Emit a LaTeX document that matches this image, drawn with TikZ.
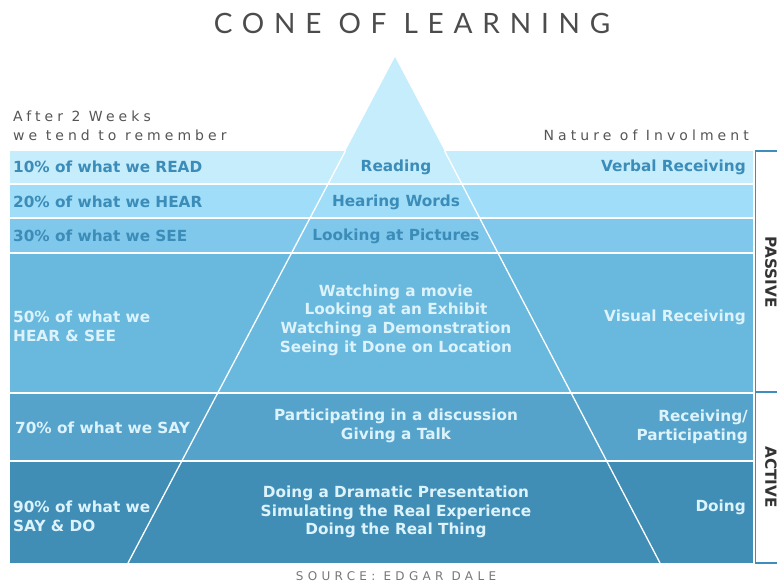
\documentclass[tikz,border=0pt]{standalone}
\usepackage{fontspec}
\setmainfont{DejaVu Sans}
\newfontfamily\headfont[LetterSpace=29]{DejaVu Sans}
\newfontfamily\srcfont[LetterSpace=36]{DejaVu Sans}
\newfontfamily\titlefont[LetterSpace=35]{Lato}
\definecolor{bandA}{HTML}{C6EDFC}
\definecolor{bandB}{HTML}{A0DDF8}
\definecolor{bandC}{HTML}{7FC8EB}
\definecolor{bandD}{HTML}{69B8DE}
\definecolor{bandE}{HTML}{55A3CB}
\definecolor{bandF}{HTML}{408DB6}
\definecolor{txtblue}{HTML}{3B8CB8}
\definecolor{txtlight}{HTML}{DDF3FC}
\definecolor{headgray}{HTML}{555555}
\definecolor{bracketblue}{HTML}{3F8DBC}

\begin{document}
\begin{tikzpicture}[x=1pt,y=-1pt]
\tikzstyle{every node}+=[inner sep=0pt]
\tikzstyle{bandtxt}=[font=\bfseries\fontsize{15.3}{18.7}\selectfont]
\tikzstyle{lighttxt}=[bandtxt, text=txtblue]
\tikzstyle{darktxt}=[bandtxt, text=txtlight]
\tikzstyle{headtxt}=[font=\headfont\fontsize{14}{19}\selectfont, text=headgray]
\useasboundingbox (0,0) rectangle (777,586);
\fill [bandA] (395,57) -- (345.4,151) -- (444.6,151) -- cycle;
\fill [bandA] (10,151) rectangle (753,183);
\fill [bandB] (10,185) rectangle (753,217);
\fill [bandC] (10,219) rectangle (753,252);
\fill [bandD] (10,254) rectangle (753,392);
\fill [bandE] (10,394) rectangle (753,460);
\fill [bandF] (10,462) rectangle (753,563);
\draw [white, line width=1.3pt] (345.4,151) -- (128,563);
\draw [white, line width=1.3pt] (444.6,151) -- (660,563);
\draw [bracketblue, line width=1.5pt] (777,151) -- (755.5,151) -- (755.5,563) -- (777,563);
\draw [bracketblue, line width=1.5pt] (755.5,392) -- (777,392);
\node (title) [font=\titlefont\fontsize{28}{30}\selectfont, text=headgray!90!black] at (412,23) {CONE OF LEARNING};
\node (after) [headtxt, anchor=base west, align=left] at (13,140) {After 2 Weeks\\we tend to remember};
\node (nature) [headtxt, anchor=base east] at (749,140) {Nature of Involment};
\node (read) [lighttxt, anchor=west] at (13,167) {10\% of what we READ};
\node (hear) [lighttxt, anchor=west] at (13,202) {20\% of what we HEAR};
\node (see) [lighttxt, anchor=west] at (13,236) {30\% of what we SEE};
\node (hearsee) [darktxt, anchor=west, align=left] at (13,326) {50\% of what we\\HEAR \& SEE};
\node (say) [darktxt, anchor=west] at (15,428) {70\% of what we SAY};
\node (saydo) [darktxt, anchor=west, align=left] at (13,516) {90\% of what we\\SAY \& DO};
\node (cread) [lighttxt] at (396,167) {Reading};
\node (chear) [lighttxt] at (396,202) {Hearing Words};
\node (csee) [lighttxt] at (396,236) {Looking at Pictures};
\node (cwatch) [darktxt, align=center] at (396,320) {Watching a movie\\Looking at an Exhibit\\Watching a Demonstration\\Seeing it Done on Location};
\node (ctalk) [darktxt, align=center] at (396,426) {Participating in a discussion\\Giving a Talk};
\node (cdo) [darktxt, align=center] at (396,512) {Doing a Dramatic Presentation\\Simulating the Real Experience\\Doing the Real Thing};
\node (rverbal) [lighttxt, anchor=east] at (746,167) {Verbal Receiving};
\node (rvisual) [darktxt, anchor=east] at (746,317) {Visual Receiving};
\node (rpart) [darktxt, anchor=east, align=right] at (748,427) {Receiving/\\Participating};
\node (rdoing) [darktxt, anchor=east] at (746,507) {Doing};
\node (passive) [bandtxt, text=black!80, rotate=-90] at (771,272) {PASSIVE};
\node (active) [bandtxt, text=black!80, rotate=-90] at (771,477) {ACTIVE};
\node (source) [font=\srcfont\fontsize{12}{13}\selectfont, text=headgray!80] at (396,576) {SOURCE: EDGAR DALE};
\end{tikzpicture}
\end{document}
